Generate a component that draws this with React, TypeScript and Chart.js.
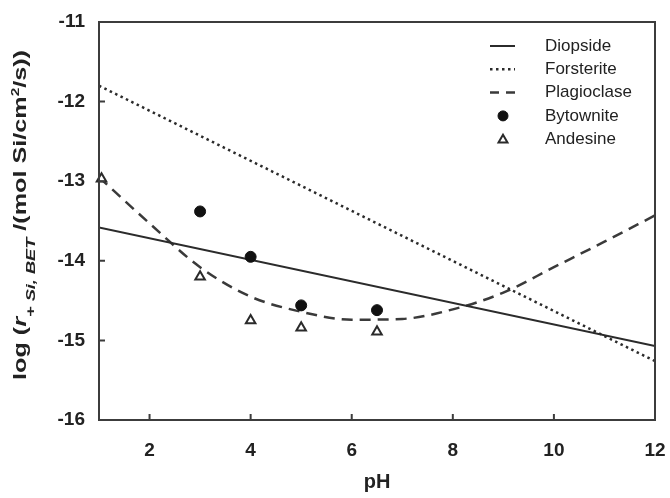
import { useEffect, useRef } from "react";
import { Chart, registerables } from "chart.js";

Chart.register(...registerables);

// ---- data ----
const lineX = [1, 12];
const diopside = [-13.58, -15.07];
const forsterite = [-11.8, -15.26];
const plagioclaseX = [1, 2, 3, 4, 5, 6, 7, 8, 9, 10, 11, 12];
const plagioclase = [-12.95, -13.53, -14.08, -14.45, -14.64, -14.74, -14.73, -14.61, -14.4, -14.08, -13.76, -13.43];
const bytowniteX = [3, 4, 5, 6.5];
const bytownite = [-13.38, -13.95, -14.56, -14.62];
const andesineX = [1.05, 3, 4, 5, 6.5];
const andesine = [-12.97, -14.2, -14.75, -14.84, -14.89];
const xTicks = [2, 4, 6, 8, 10, 12];
const yTicks = [-16, -15, -14, -13, -12, -11];
const seriesNames = ["Diopside", "Forsterite", "Plagioclase", "Bytownite", "Andesine"];

const FONT = "'Liberation Sans', Arial, Helvetica, sans-serif";
const INK = "#2b2b2b";

const pts = (xs: number[], ys: number[]) => xs.map((x, i) => ({ x, y: ys[i] }));

const decor = {
  id: "decor",
  afterDraw(chart: any) {
    const { ctx, chartArea: a, scales } = chart;
    ctx.save();
    // frame
    ctx.strokeStyle = "#3c3c3c";
    ctx.lineWidth = 2;
    ctx.setLineDash([]);
    ctx.strokeRect(a.left, a.top, a.right - a.left, a.bottom - a.top);
    // inward ticks
    ctx.beginPath();
    xTicks.forEach((v) => {
      const x = scales.x.getPixelForValue(v);
      if (x <= a.left + 1 || x >= a.right - 1) return;
      ctx.moveTo(x, a.bottom);
      ctx.lineTo(x, a.bottom - 6);
    });
    yTicks.forEach((v) => {
      const y = scales.y.getPixelForValue(v);
      if (y <= a.top + 1 || y >= a.bottom - 1) return;
      ctx.moveTo(a.left, y);
      ctx.lineTo(a.left + 6, y);
    });
    ctx.stroke();

    // legend
    const ds = chart.data.datasets;
    const sx = a.right - 165;
    const tx = a.right - 110;
    ctx.font = `17px ${FONT}`;
    ctx.textBaseline = "middle";
    ctx.textAlign = "left";
    ds.forEach((d: any, i: number) => {
      const y = a.top + 24 + i * 23.3;
      ctx.save();
      if (d.showLine) {
        ctx.strokeStyle = d.borderColor;
        ctx.lineWidth = d.borderWidth;
        ctx.setLineDash(d.legendDash || d.borderDash || []);
        ctx.beginPath();
        ctx.moveTo(sx, y);
        ctx.lineTo(sx + 25, y);
        ctx.stroke();
      } else {
        const cx = sx + 13;
        ctx.fillStyle = d.backgroundColor;
        ctx.strokeStyle = d.borderColor;
        ctx.lineWidth = d.borderWidth;
        ctx.beginPath();
        if (d.pointStyle === "triangle") {
          const r = 4.5;
          ctx.moveTo(cx, y - r);
          ctx.lineTo(cx + r, y + r * 0.75);
          ctx.lineTo(cx - r, y + r * 0.75);
          ctx.closePath();
        } else {
          ctx.arc(cx, y, 5, 0, Math.PI * 2);
        }
        ctx.fill();
        ctx.stroke();
      }
      ctx.restore();
      ctx.fillStyle = "#222";
      ctx.fillText(d.label, tx, y);
    });

    // y-axis title (rich text)
    const segs = [
      { t: "log (", f: `bold 18px ${FONT}`, dv: 0 },
      { t: "r", f: `italic bold 18px ${FONT}`, dv: 0 },
      { t: "+ Si, BET", f: `italic bold 13px ${FONT}`, dv: 9 },
      { t: " /(mol Si/cm", f: `bold 18px ${FONT}`, dv: 0 },
      { t: "2", f: `bold 11px ${FONT}`, dv: -7 },
      { t: "/s))", f: `bold 18px ${FONT}`, dv: 0 },
    ];
    let total = 0;
    const widths = segs.map((s) => {
      ctx.font = s.f;
      const w = ctx.measureText(s.t).width;
      total += w;
      return w;
    });
    const span = 330;
    const k = span / total;
    const cy = (a.top + a.bottom) / 2 - 6;
    ctx.translate(0, cy);
    ctx.rotate(-Math.PI / 2);
    ctx.scale(k, 1);
    ctx.fillStyle = "#222";
    ctx.textBaseline = "alphabetic";
    let u = -total / 2;
    segs.forEach((s, i) => {
      ctx.font = s.f;
      ctx.fillText(s.t, u, 26 + s.dv);
      u += widths[i];
    });
    ctx.restore();
  },
};

export default function App() {
  const ref = useRef<HTMLCanvasElement>(null);
  useEffect(() => {
    if (!ref.current) return;
    const chart = new Chart(ref.current, {
      type: "scatter",
      data: {
        datasets: [
          {
            label: seriesNames[0],
            data: pts(lineX, diopside),
            showLine: true,
            borderColor: INK,
            borderWidth: 2,
            pointRadius: 0,
            order: 3,
          },
          {
            label: seriesNames[1],
            data: pts(lineX, forsterite),
            showLine: true,
            borderColor: INK,
            borderWidth: 2.5,
            borderDash: [2.5, 3.5],
            pointRadius: 0,
            order: 3,
          },
          {
            label: seriesNames[2],
            data: pts(plagioclaseX, plagioclase),
            showLine: true,
            borderColor: "#3a3a3a",
            borderWidth: 2.5,
            borderDash: [11, 7],
            legendDash: [9, 7],
            cubicInterpolationMode: "monotone",
            pointRadius: 0,
            order: 3,
          } as any,
          {
            label: seriesNames[3],
            data: pts(bytowniteX, bytownite),
            showLine: false,
            backgroundColor: "#111",
            borderColor: "#111",
            borderWidth: 1,
            pointStyle: "circle",
            pointRadius: 5.5,
            order: 1,
          },
          {
            label: seriesNames[4],
            data: pts(andesineX, andesine),
            showLine: false,
            backgroundColor: "#fff",
            borderColor: "#2a2a2a",
            borderWidth: 2,
            pointStyle: "triangle",
            pointRadius: 5.5,
            order: 0,
            clip: false,
          } as any,
        ],
      },
      options: {
        animation: false,
        responsive: false,
        layout: { padding: { left: 0, right: 15, top: 22, bottom: 0 } },
        plugins: { legend: { display: false }, tooltip: { enabled: false } },
        scales: {
          x: {
            type: "linear",
            min: 1,
            max: 12,
            grid: { display: false, drawTicks: false },
            border: { display: false },
            afterBuildTicks: (s: any) => {
              s.ticks = xTicks.map((v) => ({ value: v }));
            },
            afterFit: (s: any) => {
              s.height = 78;
              s.paddingLeft = 0;
              s.paddingRight = 0;
            },
            ticks: {
              color: "#222",
              font: { family: FONT, size: 19, weight: "bold" },
              padding: 19,
              maxRotation: 0,
              autoSkip: false,
            },
            title: {
              display: true,
              text: "pH",
              color: "#222",
              font: { family: FONT, size: 20, weight: "bold" },
              padding: { top: 0, bottom: 4 },
            },
          },
          y: {
            type: "linear",
            min: -16,
            max: -11,
            grid: { display: false, drawTicks: false },
            border: { display: false },
            afterBuildTicks: (s: any) => {
              s.ticks = yTicks.map((v) => ({ value: v }));
            },
            afterFit: (s: any) => {
              s.width = 99;
              s.paddingTop = 0;
              s.paddingBottom = 0;
            },
            ticks: {
              color: "#222",
              font: { family: FONT, size: 19, weight: "bold" },
              padding: 14,
              autoSkip: false,
            },
          },
        },
      },
      plugins: [decor],
    });
    return () => chart.destroy();
  }, []);
  return (
    <div style={{ position: "absolute", left: 0, top: 0, width: 670, height: 498, background: "#fff" }}>
      <canvas ref={ref} width={670} height={498} style={{ display: "block" }} />
    </div>
  );
}
